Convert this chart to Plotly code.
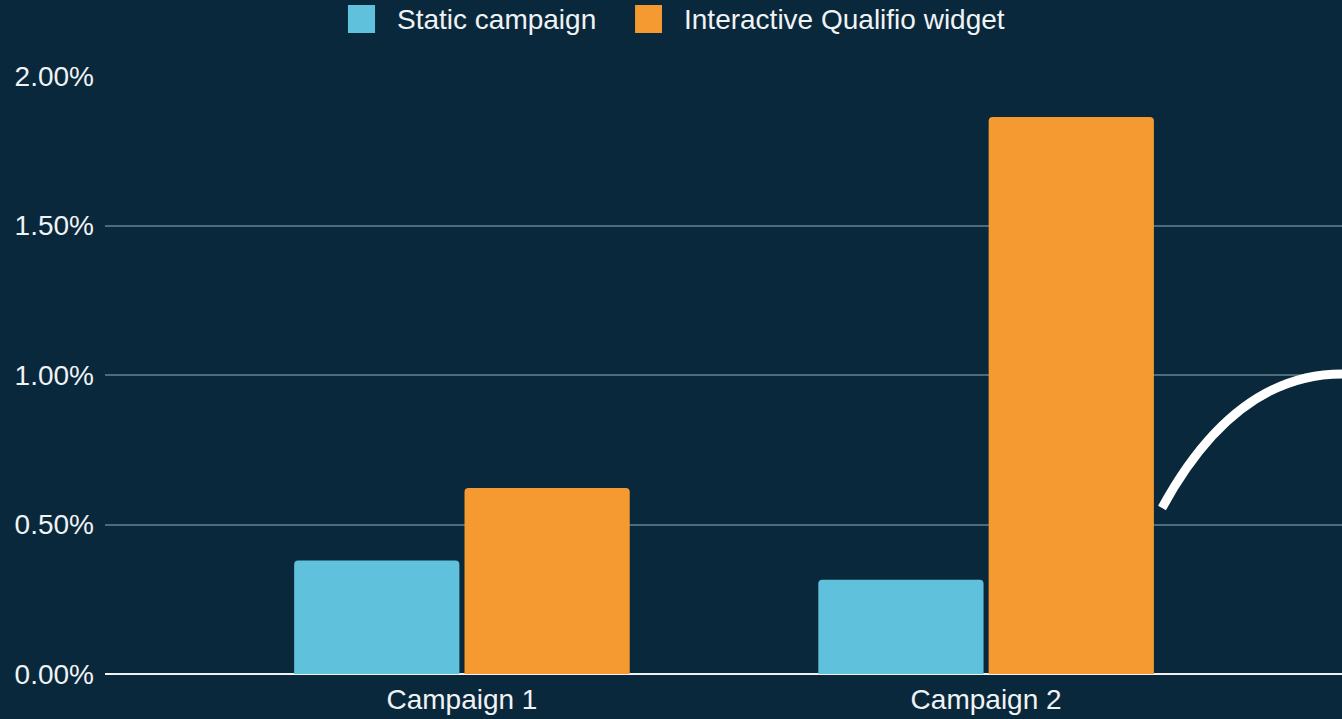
import plotly.graph_objects as go

categories = ["Campaign 1", "Campaign 2"]
static_campaign = [0.38, 0.315]
interactive_widget = [0.622, 1.863]
series_names = ["Static campaign", "Interactive Qualifio widget"]
series_colors = ["#5fc1dc", "#f59a30"]
tick_vals = [0, 0.5, 1.0, 1.5, 2.0]
tick_text = ["0.00%", "0.50%", "1.00%", "1.50%", "2.00%"]

BG = "#0a283b"
FONT = "Liberation Sans, Arial, sans-serif"
TXT = "#f0f3f5"

fig = go.Figure()
for name, vals, col in zip(series_names, [static_campaign, interactive_widget], series_colors):
    fig.add_trace(go.Bar(name=name, x=categories, y=vals, showlegend=False,
                         marker=dict(color=col, line=dict(width=0))))

# manual legend (large square swatches like the reference)
legend_pos = [(0.1964, 0.2183, 0.2344), (0.4285, 0.4503, 0.4665)]
for (x0, x1, tx), name, col in zip(legend_pos, series_names, series_colors):
    fig.add_shape(type="rect", xref="paper", yref="paper", x0=x0, x1=x1,
                  y0=1.0719, y1=1.1187, fillcolor=col, line=dict(width=0))
    fig.add_annotation(xref="paper", yref="paper", x=tx, y=1.0953, text=name,
                       showarrow=False, xanchor="left", yanchor="middle",
                       font=dict(family=FONT, size=28, color=TXT))

# decorative white arc (cropped at right edge)
fig.add_shape(type="path", xref="paper", yref="paper",
              path="M 0.8545 0.2776 Q 0.9135 0.5017 1.0 0.5017",
              line=dict(color="white", width=9), layer="above")

fig.update_layout(
    width=1342, height=719,
    paper_bgcolor=BG, plot_bgcolor=BG,
    margin=dict(l=105, r=0, t=76, b=45),
    barmode="group", bargap=0.35, bargroupgap=0.03,
    barcornerradius=4,
    font=dict(family=FONT, size=28, color=TXT),
    showlegend=False,
    xaxis=dict(range=[-0.681, 1.679], showgrid=False, ticks="",
               tickfont=dict(size=28, color=TXT), showline=False,
               ticklabelstandoff=6),
    yaxis=dict(range=[0, 2.0], tickvals=tick_vals, ticktext=tick_text,
               showgrid=True, gridcolor="#4d6b7b", gridwidth=1.5,
               zeroline=True, zerolinecolor="#f2f2f2", zerolinewidth=2,
               tickfont=dict(size=28, color=TXT), ticklabelstandoff=10),
)

fig.write_html("out.html")
